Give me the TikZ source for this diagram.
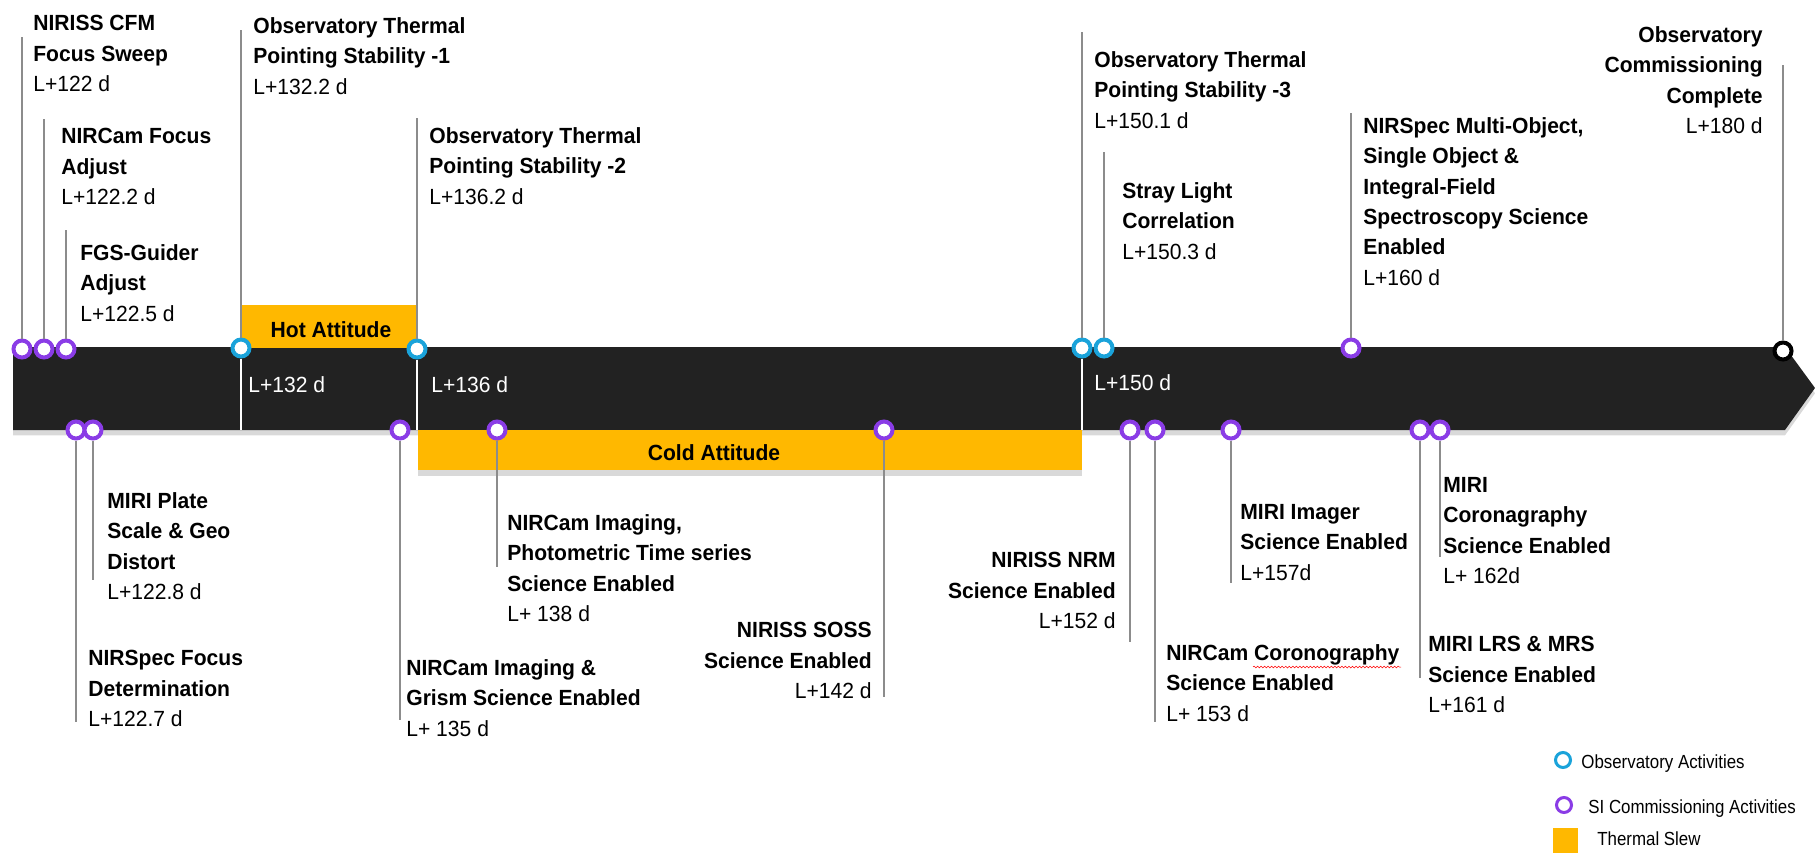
\documentclass[tikz,border=0pt]{standalone}
\usepackage{fontspec}
\setmainfont{Liberation Sans}[FakeStretch=0.96]
\newfontfamily\legfont{Liberation Sans}[FakeStretch=0.89]
\usepackage{xcolor}
\usetikzlibrary{positioning,shadows,decorations.pathmorphing}

\definecolor{barblack}{HTML}{222222}
\definecolor{obscyan}{HTML}{1AA3DA}
\definecolor{sipurple}{HTML}{8A3CE6}
\definecolor{slewgold}{HTML}{FFB800}
\definecolor{stemgray}{HTML}{8C8C8C}

\newcommand\evfont{\fontsize{12.5}{17.3}\selectfont\bfseries}
\newcommand\when[1]{{\mdseries #1}}

\begin{document}
\begin{tikzpicture}[x=0.02cm, y=-0.02cm,
  obs/.style={circle, draw=obscyan, fill=white, line width=0.08cm, minimum size=0.34cm, inner sep=0pt},
  si/.style={obs, draw=sipurple},
  finish/.style={obs, draw=black},
  stem/.style={draw=stemgray, line width=0.04cm},
  thru/.style={draw=white, line width=0.04cm},
  lbl/.style={inner sep=0pt, align=left, anchor=north west, font=\evfont},
  rlbl/.style={lbl, align=right, anchor=north east},
  slew/.style={fill=slewgold, inner sep=0pt},
  daylbl/.style={inner sep=0pt, anchor=base west, text=white, font=\fontsize{12.5}{15}\selectfont},
  key/.style={inner sep=0pt, anchor=base west, font=\legfont\fontsize{10.8}{13}\selectfont},
  spell/.style={draw=red, line width=0.3pt, decorate, decoration={snake, amplitude=0.5pt, segment length=2pt}},
  soft/.style={drop shadow={opacity=0.3, shadow xshift=0pt, shadow yshift=-3pt}}
]
\useasboundingbox (0,0) rectangle (1815,853);

% timeline bar
\path[fill=barblack, soft] (13,347) -- (1785,347) -- (1815,388) -- (1785,430) -- (13,430) -- cycle;

% thermal slews
\node[slew, anchor=south west, minimum width=3.52cm, minimum height=0.86cm] (hot) at (241,348) {};
\node[inner sep=0pt, font=\evfont] (hot-t) at (331,330) {Hot Attitude};
\node[slew, soft, anchor=north west, minimum width=13.28cm, minimum height=0.8cm] (cold) at (418,430) {};
\node[inner sep=0pt, font=\evfont] (cold-t) at (714,453) {Cold Attitude};

% day marks in the bar
\node[daylbl] (d132) at (248,392) {L+132 d};
\node[daylbl] (d136) at (431,392) {L+136 d};
\node[daylbl] (d150) at (1094,390) {L+150 d};

% events above the bar
\node[si] (cfm) at (22,349) {};
\node[si] (nfa) at (44,349) {};
\node[si] (fgs) at (66,349) {};
\node[obs] (ots1) at (241,348) {};
\node[obs] (ots2) at (417,349) {};
\node[obs] (ots3) at (1082,348) {};
\node[obs] (stray) at (1104,348) {};
\node[si] (msa) at (1351,348) {};
\node[finish] (done) at (1783,351) {};

\coordinate (cfm-top) at (22,37);
\coordinate (nfa-top) at (44,119);
\coordinate (fgs-top) at (66,230);
\coordinate (ots1-top) at (241,30);
\coordinate (ots2-top) at (417,118);
\coordinate (ots3-top) at (1082,32);
\coordinate (stray-top) at (1104,152);
\coordinate (msa-top) at (1351,113);
\coordinate (done-top) at (1783,65);

\draw[stem] (cfm-top) -- (cfm);
\draw[stem] (nfa-top) -- (nfa);
\draw[stem] (fgs-top) -- (fgs);
\draw[stem] (ots1-top) -- (ots1);
\draw[stem] (ots2-top) -- (ots2);
\draw[stem] (ots3-top) -- (ots3);
\draw[stem] (stray-top) -- (stray);
\draw[stem] (msa-top) -- (msa);
\draw[stem] (done-top) -- (done);

% white marks through the bar
\coordinate (ots1-bot) at (241,430);
\coordinate (ots2-bot) at (417,430);
\coordinate (ots3-bot) at (1082,430);
\draw[thru] (ots1) -- (ots1-bot);
\draw[thru] (ots2) -- (ots2-bot);
\draw[thru] (ots3) -- (ots3-bot);

\node[lbl] (cfm-l) at (33,15) {NIRISS CFM\\Focus Sweep\\\when{L+122 d}};
\node[lbl] (nfa-l) at (61,128) {NIRCam Focus\\Adjust\\\when{L+122.2 d}};
\node[lbl] (fgs-l) at (80,244) {FGS-Guider\\Adjust\\\when{L+122.5 d}};
\node[lbl] (ots1-l) at (253,17) {Observatory Thermal\\Pointing Stability -1\\\when{L+132.2 d}};
\node[lbl] (ots2-l) at (429,127) {Observatory Thermal\\Pointing Stability -2\\\when{L+136.2 d}};
\node[lbl] (ots3-l) at (1094,51) {Observatory Thermal\\Pointing Stability -3\\\when{L+150.1 d}};
\node[lbl] (stray-l) at (1122,182) {Stray Light\\Correlation\\\when{L+150.3 d}};
\node[lbl] (msa-l) at (1363,117) {NIRSpec Multi-Object,\\Single Object \&\\Integral-Field\\Spectroscopy Science\\Enabled\\\when{L+160 d}};
\node[rlbl] (done-l) at (1763,26) {Observatory\\Commissioning\\Complete\\\when{L+180 d}};

% events below the bar
\node[si] (nsf) at (76,430) {};
\node[si] (mps) at (93,430) {};
\node[si] (nig) at (400,430) {};
\node[si] (nip) at (497,430) {};
\node[si] (soss) at (884,430) {};
\node[si] (nrm) at (1130,430) {};
\node[si] (ncc) at (1155,430) {};
\node[si] (mim) at (1231,430) {};
\node[si] (lrs) at (1420,430) {};
\node[si] (mcc) at (1440,430) {};

\coordinate (nsf-end) at (76,722);
\coordinate (mps-end) at (93,580);
\coordinate (nig-end) at (400,720);
\coordinate (nip-end) at (497,567);
\coordinate (soss-end) at (884,697);
\coordinate (nrm-end) at (1130,642);
\coordinate (ncc-end) at (1155,722);
\coordinate (mim-end) at (1231,583);
\coordinate (lrs-end) at (1420,678);
\coordinate (mcc-end) at (1440,557);

\draw[stem] (nsf) -- (nsf-end);
\draw[stem] (mps) -- (mps-end);
\draw[stem] (nig) -- (nig-end);
\draw[stem] (nip) -- (nip-end);
\draw[stem] (soss) -- (soss-end);
\draw[stem] (nrm) -- (nrm-end);
\draw[stem] (ncc) -- (ncc-end);
\draw[stem] (mim) -- (mim-end);
\draw[stem] (lrs) -- (lrs-end);
\draw[stem] (mcc) -- (mcc-end);

\node[lbl] (nsf-l) at (88,650) {NIRSpec Focus\\Determination\\\when{L+122.7 d}};
\node[lbl] (mps-l) at (107,492) {MIRI Plate\\Scale \& Geo\\Distort\\\when{L+122.8 d}};
\node[lbl] (nig-l) at (406,659) {NIRCam Imaging \&\\Grism Science Enabled\\\when{L+ 135 d}};
\node[lbl] (nip-l) at (507,514) {NIRCam Imaging,\\Photometric Time series\\Science Enabled\\\when{L+ 138 d}};
\node[rlbl] (soss-l) at (872,622) {NIRISS SOSS\\Science Enabled\\\when{L+142 d}};
\node[rlbl] (nrm-l) at (1116,552) {NIRISS NRM\\Science Enabled\\\when{L+152 d}};
\node[lbl] (ncc-l) at (1166,644) {NIRCam Coronography\\Science Enabled\\\when{L+ 153 d}};
\node[lbl] (mim-l) at (1240,504) {MIRI Imager\\Science Enabled\\\when{L+157d}};
\node[lbl] (lrs-l) at (1428,636) {MIRI LRS \& MRS\\Science Enabled\\\when{L+161 d}};
\node[lbl] (mcc-l) at (1443,477) {MIRI\\Coronagraphy\\Science Enabled\\\when{L+ 162d}};

% spell-check mark
\coordinate (sp-a) at (1253,667);
\coordinate (sp-b) at (1401,667);
\draw[spell] (sp-a) -- (sp-b);

% legend
\node[obs, minimum size=0.3cm, line width=0.06cm] (key-obs) at (1563,760) {};
\node[key] (key-obs-t) at (1581,768) {Observatory Activities};
\node[si, minimum size=0.3cm, line width=0.06cm] (key-si) at (1564,805) {};
\node[key] (key-si-t) at (1588,813) {SI Commissioning Activities};
\node[slew, anchor=north west, minimum width=0.5cm, minimum height=0.5cm] (key-slew) at (1553,828) {};
\node[key] (key-slew-t) at (1597,845) {Thermal Slew};
\end{tikzpicture}
\end{document}
